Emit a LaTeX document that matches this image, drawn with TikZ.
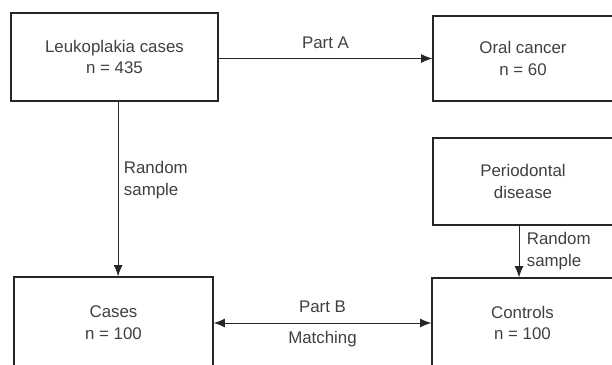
\documentclass[tikz,border=0pt]{standalone}
\usepackage{fontspec}
\setmainfont{Liberation Sans}
\usepackage{tikz}
\usetikzlibrary{positioning}
\usetikzlibrary{arrows.meta}

\begin{document}
\begin{tikzpicture}[x=0.025cm, y=-0.025cm,
    box/.style={draw=black!85, line width=0.9pt, align=center, inner sep=0pt,
        text=black!75, font=\fontsize{12}{15.5}\selectfont},
    link/.style={draw=black!85, line width=0.6pt},
    tip/.style={-{Latex[length=2.8mm, width=2.2mm]}},
    tag/.style={text=black!75, font=\fontsize{12}{15.5}\selectfont, inner sep=1pt}]

    \useasboundingbox (0,0) rectangle (612,365);

    \node[box, minimum width=5.175cm, minimum height=2.2cm] (leuko) at (114.5,57) {Leukoplakia cases\\n = 435};
    \node[box, minimum width=4.5cm, minimum height=2.125cm] (oral) at (523,58.5) {Oral cancer\\n = 60};
    \node[box, minimum width=4.5cm, minimum height=2.175cm] (perio) at (523,181.5) {Periodontal\\disease};
    \node[box, minimum width=4.975cm, minimum height=2.275cm] (cases) at (113.5,322.5) {Cases\\n = 100};
    \node[box, minimum width=4.525cm, minimum height=2.25cm] (controls) at (522.5,323) {Controls\\n = 100};

    % part A
    \draw[link, tip] (leuko.east |- oral.west) -- (oral.west)
        node[tag, midway, above=0.2cm] (partA) {Part A};

    % part B
    \draw[link, {Latex[length=2.8mm, width=2.2mm]}-{Latex[length=2.8mm, width=2.2mm]}] (cases.east |- controls.west) -- (controls.west)
        node[tag, midway, above=0.22cm] (partB) {Part B}
        node[tag, midway, below=0.16cm] (match) {Matching};

    % random samples
    \draw[link, tip] ([xshift=0.09cm]leuko.south) -- ([xshift=0.09cm]leuko.south |- cases.north)
        node[tag, pos=0.45, right=0.1cm, align=left] (randA) {Random\\sample};
    \draw[link, tip] ([xshift=-0.1cm]perio.south) -- ([xshift=-0.1cm]perio.south |- controls.north)
        node[tag, midway, right=0.15cm, align=left] (randB) {Random\\sample};

\end{tikzpicture}
\end{document}
